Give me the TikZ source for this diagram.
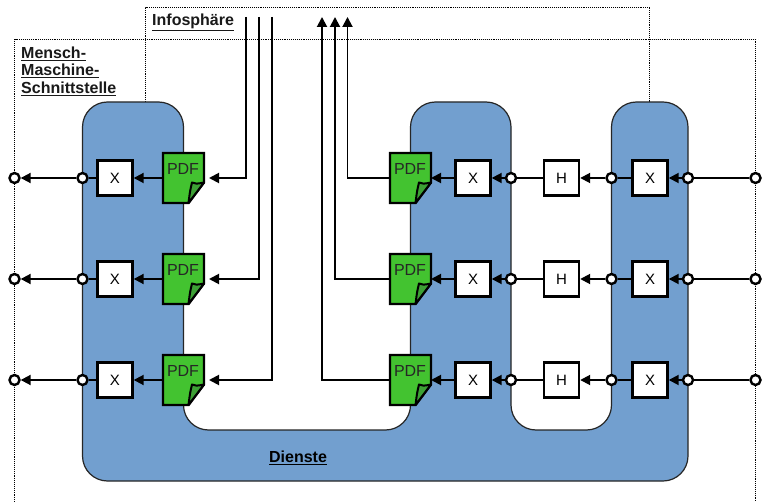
\documentclass[tikz,border=0pt]{standalone}
\usepackage{fontspec}
\setmainfont{Liberation Sans}
\usetikzlibrary{arrows.meta}
\definecolor{dienstblue}{HTML}{729FCF}
\definecolor{pdfgreen}{HTML}{43C330}
\definecolor{pdffold}{HTML}{3DA035}
\tikzset{
  frameline/.style={densely dotted,line width=0.9pt,black},
  servicearea/.style={fill=dienstblue,draw=black!85,line width=1.2pt,rounded corners=25pt},
  port/.style={circle,draw=black,fill=white,line width=2.4pt,minimum size=10pt,inner sep=0pt},
  opbox/.style={rectangle,draw=black,fill=white,line width=2.4pt,minimum size=35pt,inner sep=0pt,font=\fontsize{15}{15}\selectfont},
  pdfarea/.style={rectangle,minimum width=41pt,minimum height=50pt,inner sep=0pt,outer sep=0pt,font=\fontsize{16}{16}\selectfont,text=black!85},
  flow/.style={line width=1.9pt,black,-{Triangle[length=10pt,width=10pt]}},
  plainflow/.style={line width=1.9pt,black},
  heading/.style={font=\fontsize{16}{17.6}\selectfont\bfseries,inner sep=0pt,align=left,anchor=north west,text=black!90},
}
\newcommand{\pdfdoc}[3]{%
  \fill[pdfgreen] (#2-20.5,#3-25) -- (#2+20.5,#3-25) -- (#2+20.5,#3+4.5) -- (#2+5,#3+25) -- (#2-20.5,#3+25) -- cycle;
  \node[pdfarea] (#1) at (#2,#3) {\hspace*{-1pt}\raisebox{18pt}{PDF}};
  \draw[line width=2.4pt,line join=miter,draw=black] (#1.north west) -- (#1.north east) -- ([yshift=-29.5pt]#1.north east) -- ([xshift=25.5pt]#1.south west) -- (#1.south west) -- cycle;
  \draw[line width=2pt,fill=pdffold,line join=round,draw=black] ([xshift=25.5pt]#1.south west) .. controls ([xshift=27pt,yshift=12pt]#1.south west) .. ([xshift=29pt,yshift=20.5pt]#1.south west) .. controls ([xshift=33pt,yshift=19pt]#1.south west) .. ([xshift=41pt,yshift=20.5pt]#1.south west) -- cycle;
}
\begin{document}
\begin{tikzpicture}[x=1pt,y=-1pt]
\useasboundingbox (0,0) rectangle (762,502);
\fill[white] (0,0) rectangle (762,502);
% frames
\draw[frameline] (14.5,502) -- (14.5,39.5) -- (755.5,39.5) -- (755.5,502);
\draw[frameline] (145.5,102) -- (145.5,7) -- (649.5,7) -- (649.5,102);
% service area
\draw[servicearea] (82.5,102) -- (183.5,102) -- (183.5,430) -- (410.5,430) -- (410.5,102) -- (511,102) -- (511,430) -- (611.5,430) -- (611.5,102) -- (688,102) -- (688,481) -- (82.5,481) -- cycle;
% headings
\node[heading] (mmi) at (21,46.5) {\underline{Mensch-}\\\underline{Maschine-}\\\underline{Schnittstelle}};
\node[heading] (info) at (152,13.5) {\underline{Infosphäre}};
\node[heading,anchor=center,text=black] (dienste) at (298,457.5) {\underline{Dienste}};
% rows
\foreach \n/\y/\lx/\rx in {1/178/246/347.5,2/279/259/335,3/380/272/322}{
  \node[port] (oa\n) at (14.5,\y) {};
  \node[port] (ob\n) at (82.5,\y) {};
  \node[opbox] (xa\n) at (115,\y) {X};
  \pdfdoc{pa\n}{183.5}{\y}
  \coordinate (ina\n) at (209,\y);
  \coordinate (topa\n) at (\lx,17);
  \draw[flow] (topa\n) |- (ina\n);
  \draw[flow] (pa\n) -- (xa\n);
  \draw[plainflow] (xa\n) -- (ob\n);
  \draw[flow] (ob\n) -- (oa\n);
  \pdfdoc{pb\n}{410.5}{\y}
  \coordinate (topb\n) at (\rx,17);
  \draw[flow,line join=miter] (pb\n.west) -| (topb\n);
  \node[opbox] (xb\n) at (473,\y) {X};
  \node[port] (oc\n) at (511,\y) {};
  \node[opbox] (h\n) at (561.5,\y) {H};
  \node[port] (od\n) at (611.5,\y) {};
  \node[opbox] (xc\n) at (650,\y) {X};
  \node[port] (oe\n) at (688,\y) {};
  \node[port] (of\n) at (755.5,\y) {};
  \draw[flow] (xb\n) -- (pb\n.east);
  \draw[flow] (oc\n) -- (xb\n);
  \draw[plainflow] (h\n) -- (oc\n);
  \draw[flow] (od\n) -- (h\n);
  \draw[plainflow] (xc\n) -- (od\n);
  \draw[flow] (oe\n) -- (xc\n);
  \draw[plainflow] (of\n) -- (oe\n);
}
\end{tikzpicture}
\end{document}
